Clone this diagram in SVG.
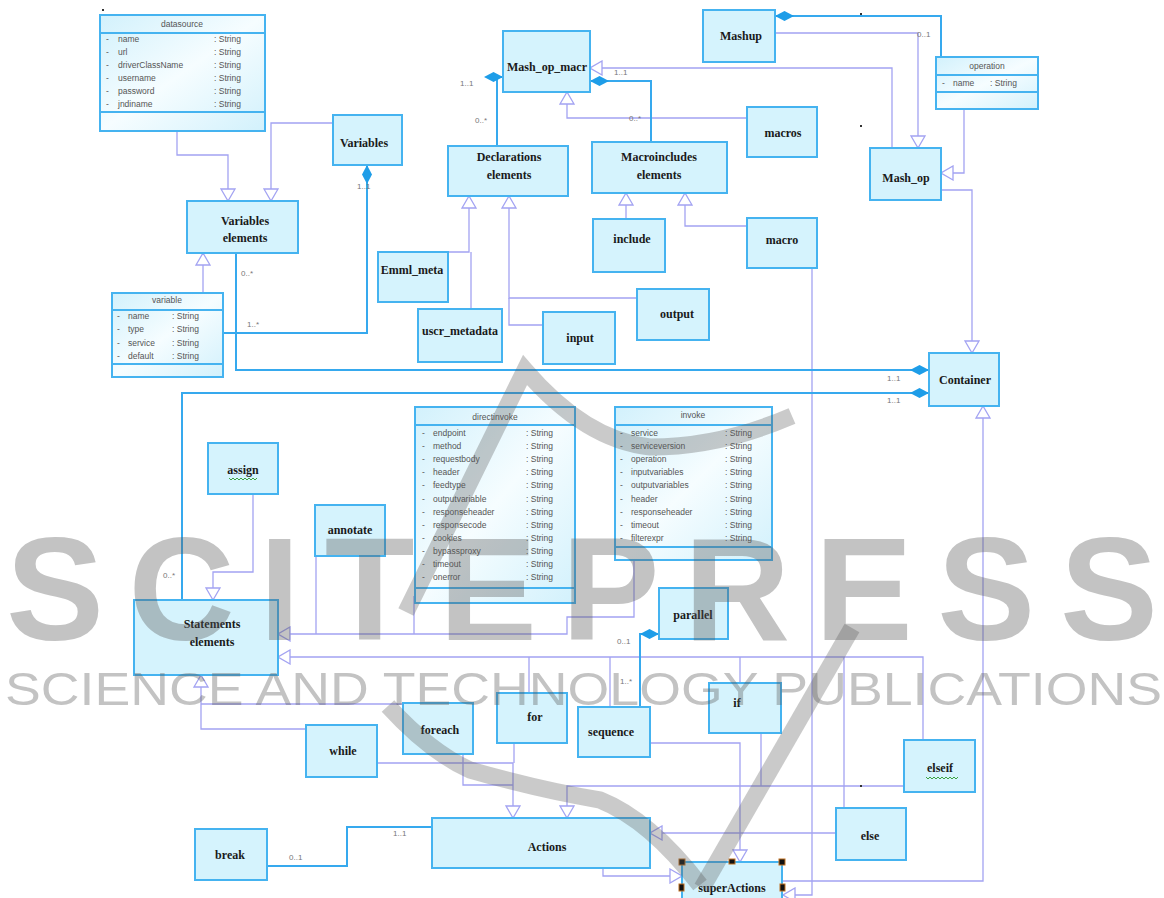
<svg xmlns="http://www.w3.org/2000/svg" width="1164" height="898" viewBox="0 0 1164 898">
<defs>
<linearGradient id="cg" x1="0" y1="0" x2="1" y2="1">
<stop offset="0" stop-color="#d2f1fc"/><stop offset="0.5" stop-color="#f6fdff"/><stop offset="1" stop-color="#d2f1fc"/>
</linearGradient>
<marker id="gen" viewBox="0 0 14 16" refX="13" refY="8" markerWidth="14" markerHeight="16" markerUnits="userSpaceOnUse" orient="auto">
<path d="M1,1 L13,8 L1,15 z" fill="#fff" stroke="#a3a3f2" stroke-width="1.3"/>
</marker>
<marker id="dia" viewBox="0 0 19 11" refX="0" refY="5.5" markerWidth="19" markerHeight="11" markerUnits="userSpaceOnUse" orient="auto">
<path d="M0,5.5 L9.5,0.5 L19,5.5 L9.5,10.5 z" fill="#1e9de8"/>
</marker>
<style>
.n rect{fill:#d5f3fd;stroke:#45b3f0;stroke-width:2}
.k rect{fill:url(#cg);stroke:#45b3f0;stroke-width:2}
.k line{stroke:#45b3f0;stroke-width:2}
.t{font-family:"Liberation Serif",serif;font-weight:bold;font-size:12px;fill:#1a1a1a;text-anchor:middle}
.a{font-family:"Liberation Sans",sans-serif;font-size:8.5px;fill:#555}
.h{font-family:"Liberation Sans",sans-serif;font-size:8.5px;fill:#555;text-anchor:middle}
.g{fill:none;stroke:#a3a3f2;stroke-width:1.3}
.c{fill:none;stroke:#36a9ee;stroke-width:2}
.m{font-family:"Liberation Sans",sans-serif;font-size:8px;fill:#777}
.sq{fill:none;stroke:#2a9a2a;stroke-width:0.9}
.hd{fill:#111;stroke:#c07020;stroke-width:1}
.wm{fill:#5a5a5a;opacity:0.36;font-family:"Liberation Sans",sans-serif}
.ws{fill:none;stroke:#5a5a5a;stroke-opacity:0.32;stroke-width:17;stroke-linecap:butt}
</style>
</defs>
<rect width="1164" height="898" fill="#fff"/>

<g id="connectors">
<path class="g" d="M177,131 V155 H228 V201" marker-end="url(#gen)"/>
<path class="g" d="M333,123 H271 V201" marker-end="url(#gen)"/>
<path class="g" d="M203,293 V253" marker-end="url(#gen)"/>
<path class="g" d="M892,148 V68 H590" marker-end="url(#gen)"/>
<path class="g" d="M775,33 H918 V148" marker-end="url(#gen)"/>
<path class="g" d="M964,109 V173 H941" marker-end="url(#gen)"/>
<path class="g" d="M941,190 H972 V353" marker-end="url(#gen)"/>
<path class="g" d="M747,118 H567 V92" marker-end="url(#gen)"/>
<path class="g" d="M448,252 H469 V196" marker-end="url(#gen)"/>
<path class="g" d="M471,252 V309"/>
<path class="g" d="M637,298 H509 V196" marker-end="url(#gen)"/>
<path class="g" d="M509,298 V325 H543"/>
<path class="g" d="M626,219 V193" marker-end="url(#gen)"/>
<path class="g" d="M747,226 H685 V193" marker-end="url(#gen)"/>
<path class="g" d="M812,268 V895 H783" marker-end="url(#gen)"/>
<path class="g" d="M783,881 H983 V406" marker-end="url(#gen)"/>
<path class="g" d="M634,560 V617 H567 V634 H278" marker-end="url(#gen)"/>
<path class="g" d="M316,556 V634"/>
<path class="g" d="M414,596 V634"/>
<path class="g" d="M923,740 V657 H278" marker-end="url(#gen)"/>
<path class="g" d="M529,693 V657"/>
<path class="g" d="M610,707 V657"/>
<path class="g" d="M740,683 V657"/>
<path class="g" d="M844,808 V657"/>
<path class="g" d="M253,494 V572 H213 V600" marker-end="url(#gen)"/>
<path class="g" d="M306,729 H201 V675" marker-end="url(#gen)"/>
<path class="g" d="M403,704 H201"/>
<path class="g" d="M377,763 H513 V818" marker-end="url(#gen)"/>
<path class="g" d="M514,743 V763"/>
<path class="g" d="M463,754 V785 H513"/>
<path class="g" d="M904,786 H567 V818" marker-end="url(#gen)"/>
<path class="g" d="M761,733 V786"/>
<path class="g" d="M836,833 H650" marker-end="url(#gen)"/>
<path class="g" d="M650,743 H740 V862" marker-end="url(#gen)"/>
<path class="g" d="M603,868 V876 H682" marker-end="url(#gen)"/>
<path class="c" d="M367,165 V333 H223" marker-start="url(#dia)"/>
<path class="c" d="M929,370 H236 V253" marker-start="url(#dia)"/>
<path class="c" d="M929,393 H182 V600" marker-start="url(#dia)"/>
<path class="c" d="M503,77 H497 V146" marker-start="url(#dia)"/>
<path class="c" d="M590,81 H651 V142" marker-start="url(#dia)"/>
<path class="c" d="M775,16 H941 V57" marker-start="url(#dia)"/>
<path class="c" d="M659,634 H640 V707" marker-start="url(#dia)"/>
<path class="c" d="M432,827 H347 V866 H267"/>
<text class="m" x="357" y="189">1..1</text>
<text class="m" x="241" y="276">0..*</text>
<text class="m" x="247" y="327">1..*</text>
<text class="m" x="460" y="86">1..1</text>
<text class="m" x="475" y="123">0..*</text>
<text class="m" x="614" y="75">1..1</text>
<text class="m" x="629" y="121">0..*</text>
<text class="m" x="917" y="37">0..1</text>
<text class="m" x="887" y="381">1..1</text>
<text class="m" x="887" y="403">1..1</text>
<text class="m" x="163" y="578">0..*</text>
<text class="m" x="617" y="644">0..1</text>
<text class="m" x="620" y="684">1..*</text>
<text class="m" x="393" y="836">1..1</text>
<text class="m" x="289" y="860">0..1</text>
</g>

<g id="datasource" class="k">
<rect x="100" y="15" width="165" height="116"/>
<line x1="100" y1="33" x2="265" y2="33"/><line x1="100" y1="112" x2="265" y2="112"/>
<text class="h" x="182" y="27">datasource</text>
<text class="a" x="106" y="42">-</text><text class="a" x="118" y="42">name</text><text class="a" x="214" y="42">: String</text>
<text class="a" x="106" y="55">-</text><text class="a" x="118" y="55">url</text><text class="a" x="214" y="55">: String</text>
<text class="a" x="106" y="68">-</text><text class="a" x="118" y="68">driverClassName</text><text class="a" x="214" y="68">: String</text>
<text class="a" x="106" y="81">-</text><text class="a" x="118" y="81">username</text><text class="a" x="214" y="81">: String</text>
<text class="a" x="106" y="94">-</text><text class="a" x="118" y="94">password</text><text class="a" x="214" y="94">: String</text>
<text class="a" x="106" y="107">-</text><text class="a" x="118" y="107">jndiname</text><text class="a" x="214" y="107">: String</text>
</g>

<g id="variable" class="k">
<rect x="112" y="293" width="111" height="84"/>
<line x1="112" y1="310" x2="223" y2="310"/><line x1="112" y1="364" x2="223" y2="364"/>
<text class="h" x="167" y="303">variable</text>
<text class="a" x="117" y="319">-</text><text class="a" x="128" y="319">name</text><text class="a" x="172" y="319">: String</text>
<text class="a" x="117" y="332">-</text><text class="a" x="128" y="332">type</text><text class="a" x="172" y="332">: String</text>
<text class="a" x="117" y="346">-</text><text class="a" x="128" y="346">service</text><text class="a" x="172" y="346">: String</text>
<text class="a" x="117" y="359">-</text><text class="a" x="128" y="359">default</text><text class="a" x="172" y="359">: String</text>
</g>

<g id="operation" class="k">
<rect x="936" y="57" width="102" height="52"/>
<line x1="936" y1="75" x2="1038" y2="75"/><line x1="936" y1="92" x2="1038" y2="92"/>
<text class="h" x="987" y="69">operation</text>
<text class="a" x="942" y="86">-</text><text class="a" x="953" y="86">name</text><text class="a" x="990" y="86">: String</text>
</g>

<g id="directinvoke" class="k">
<rect x="415" y="407" width="160" height="196"/>
<line x1="415" y1="425" x2="575" y2="425"/><line x1="415" y1="588" x2="575" y2="588"/>
<text class="h" x="495" y="420">directinvoke</text>
<text class="a" x="422" y="436">-</text><text class="a" x="433" y="436">endpoint</text><text class="a" x="526" y="436">: String</text>
<text class="a" x="422" y="449">-</text><text class="a" x="433" y="449">method</text><text class="a" x="526" y="449">: String</text>
<text class="a" x="422" y="462">-</text><text class="a" x="433" y="462">requestbody</text><text class="a" x="526" y="462">: String</text>
<text class="a" x="422" y="475">-</text><text class="a" x="433" y="475">header</text><text class="a" x="526" y="475">: String</text>
<text class="a" x="422" y="488">-</text><text class="a" x="433" y="488">feedtype</text><text class="a" x="526" y="488">: String</text>
<text class="a" x="422" y="502">-</text><text class="a" x="433" y="502">outputvariable</text><text class="a" x="526" y="502">: String</text>
<text class="a" x="422" y="515">-</text><text class="a" x="433" y="515">responseheader</text><text class="a" x="526" y="515">: String</text>
<text class="a" x="422" y="528">-</text><text class="a" x="433" y="528">responsecode</text><text class="a" x="526" y="528">: String</text>
<text class="a" x="422" y="541">-</text><text class="a" x="433" y="541">cookies</text><text class="a" x="526" y="541">: String</text>
<text class="a" x="422" y="554">-</text><text class="a" x="433" y="554">bypassproxy</text><text class="a" x="526" y="554">: String</text>
<text class="a" x="422" y="567">-</text><text class="a" x="433" y="567">timeout</text><text class="a" x="526" y="567">: String</text>
<text class="a" x="422" y="580">-</text><text class="a" x="433" y="580">onerror</text><text class="a" x="526" y="580">: String</text>
</g>

<g id="invoke" class="k">
<rect x="615" y="407" width="157" height="153"/>
<line x1="615" y1="425" x2="772" y2="425"/><line x1="615" y1="547" x2="772" y2="547"/>
<text class="h" x="693" y="418">invoke</text>
<text class="a" x="620" y="436">-</text><text class="a" x="631" y="436">service</text><text class="a" x="725" y="436">: String</text>
<text class="a" x="620" y="449">-</text><text class="a" x="631" y="449">serviceversion</text><text class="a" x="725" y="449">: String</text>
<text class="a" x="620" y="462">-</text><text class="a" x="631" y="462">operation</text><text class="a" x="725" y="462">: String</text>
<text class="a" x="620" y="475">-</text><text class="a" x="631" y="475">inputvariables</text><text class="a" x="725" y="475">: String</text>
<text class="a" x="620" y="488">-</text><text class="a" x="631" y="488">outputvariables</text><text class="a" x="725" y="488">: String</text>
<text class="a" x="620" y="502">-</text><text class="a" x="631" y="502">header</text><text class="a" x="725" y="502">: String</text>
<text class="a" x="620" y="515">-</text><text class="a" x="631" y="515">responseheader</text><text class="a" x="725" y="515">: String</text>
<text class="a" x="620" y="528">-</text><text class="a" x="631" y="528">timeout</text><text class="a" x="725" y="528">: String</text>
<text class="a" x="620" y="541">-</text><text class="a" x="631" y="541">filterexpr</text><text class="a" x="725" y="541">: String</text>
</g>

<g id="Variables" class="n"><rect x="333" y="115" width="69" height="50"/><text class="t" x="364" y="147">Variables</text></g>
<g id="VariablesElements" class="n"><rect x="187" y="201" width="111" height="52"/><text class="t" x="245" y="225">Variables</text><text class="t" x="245" y="242">elements</text></g>
<g id="Mash_op_macr" class="n"><rect x="503" y="31" width="87" height="61"/><text class="t" x="547" y="71">Mash_op_macr</text></g>
<g id="DeclarationsElements" class="n"><rect x="448" y="146" width="120" height="50"/><text class="t" x="509" y="161">Declarations</text><text class="t" x="509" y="179">elements</text></g>
<g id="MacroincludesElements" class="n"><rect x="592" y="142" width="135" height="51"/><text class="t" x="659" y="161">Macroincludes</text><text class="t" x="659" y="179">elements</text></g>
<g id="macros" class="n"><rect x="747" y="107" width="70" height="50"/><text class="t" x="783" y="137">macros</text></g>
<g id="Mashup" class="n"><rect x="703" y="10" width="72" height="52"/><text class="t" x="741" y="40">Mashup</text></g>
<g id="Mash_op" class="n"><rect x="870" y="148" width="71" height="52"/><text class="t" x="906" y="182">Mash_op</text></g>
<g id="Emml_meta" class="n"><rect x="378" y="252" width="70" height="50"/><text class="t" x="412" y="274">Emml_meta</text></g>
<g id="uscr_metadata" class="n"><rect x="418" y="309" width="84" height="53"/><text class="t" x="460" y="335">uscr_metadata</text></g>
<g id="include" class="n"><rect x="593" y="219" width="72" height="53"/><text class="t" x="632" y="243">include</text></g>
<g id="input" class="n"><rect x="543" y="312" width="72" height="52"/><text class="t" x="580" y="342">input</text></g>
<g id="output" class="n"><rect x="637" y="289" width="72" height="51"/><text class="t" x="677" y="318">output</text></g>
<g id="macro" class="n"><rect x="747" y="218" width="70" height="50"/><text class="t" x="782" y="244">macro</text></g>
<g id="Container" class="n"><rect x="929" y="353" width="70" height="53"/><text class="t" x="965" y="384">Container</text></g>
<g id="assign" class="n"><rect x="208" y="443" width="70" height="51"/><text class="t" x="243" y="474">assign</text><path class="sq" d="M229,478 l2,2 l2,-2 l2,2 l2,-2 l2,2 l2,-2 l2,2 l2,-2 l2,2 l2,-2 l2,2 l2,-2 l2,2 l2,-2"/></g>
<g id="annotate" class="n"><rect x="315" y="505" width="70" height="51"/><text class="t" x="350" y="534">annotate</text></g>
<g id="StatementsElements" class="n"><rect x="134" y="600" width="144" height="75"/><text class="t" x="212" y="628">Statements</text><text class="t" x="212" y="646">elements</text></g>
<g id="parallel" class="n"><rect x="659" y="588" width="69" height="51"/><text class="t" x="693" y="619">parallel</text></g>
<g id="for" class="n"><rect x="497" y="693" width="70" height="50"/><text class="t" x="535" y="721">for</text></g>
<g id="foreach" class="n"><rect x="403" y="703" width="70" height="51"/><text class="t" x="440" y="734">foreach</text></g>
<g id="while" class="n"><rect x="306" y="725" width="71" height="52"/><text class="t" x="343" y="755">while</text></g>
<g id="sequence" class="n"><rect x="578" y="707" width="72" height="50"/><text class="t" x="611" y="736">sequence</text></g>
<g id="if" class="n"><rect x="709" y="683" width="72" height="50"/><text class="t" x="737" y="707">if</text></g>
<g id="elseif" class="n"><rect x="904" y="740" width="71" height="52"/><text class="t" x="940" y="772">elseif</text><path class="sq" d="M926,777 l2,2 l2,-2 l2,2 l2,-2 l2,2 l2,-2 l2,2 l2,-2 l2,2 l2,-2 l2,2 l2,-2 l2,2 l2,-2 l2,2 l2,-2"/></g>
<g id="else" class="n"><rect x="836" y="808" width="70" height="52"/><text class="t" x="870" y="840">else</text></g>
<g id="Actions" class="n"><rect x="432" y="818" width="218" height="50"/><text class="t" x="547" y="851">Actions</text></g>
<g id="break" class="n"><rect x="195" y="829" width="72" height="51"/><text class="t" x="230" y="859">break</text></g>
<g id="superActions" class="n"><rect x="682" y="862" width="100" height="50"/><text class="t" x="732" y="892">superActions</text>
<rect x="679" y="859" width="6" height="6" style="fill:#111;stroke:#c07020;stroke-width:1"/>
<rect x="729" y="859" width="6" height="5" style="fill:#111;stroke:#c07020;stroke-width:1"/>
<rect x="779" y="859" width="6" height="6" style="fill:#111;stroke:#c07020;stroke-width:1"/>
<rect x="679" y="884" width="5" height="7" style="fill:#111;stroke:#c07020;stroke-width:1"/>
<rect x="780" y="884" width="5" height="7" style="fill:#111;stroke:#c07020;stroke-width:1"/>
</g>

<g id="dots" fill="#333">
<rect x="102" y="9" width="2" height="2"/><rect x="860" y="13" width="2" height="2"/><rect x="860" y="125" width="2" height="2"/><rect x="860" y="785" width="2" height="2"/>
</g>

<g id="watermark">
<text class="wm" x="6" y="640" font-size="147" font-weight="bold" textLength="1152" lengthAdjust="spacing">SCITEPRESS</text>
<text class="wm" x="5" y="705" font-size="47" textLength="1157" lengthAdjust="spacingAndGlyphs">SCIENCE AND TECHNOLOGY PUBLICATIONS</text>
<path class="ws" d="M406,612 L525,370 Q585,440 650,447 Q720,447 792,416"/>
<path class="ws" d="M388,706 Q430,752 470,770 Q540,790 600,800 Q650,820 700,885"/>
<path class="ws" d="M852,628 L702,888"/>
</g>
</svg>
